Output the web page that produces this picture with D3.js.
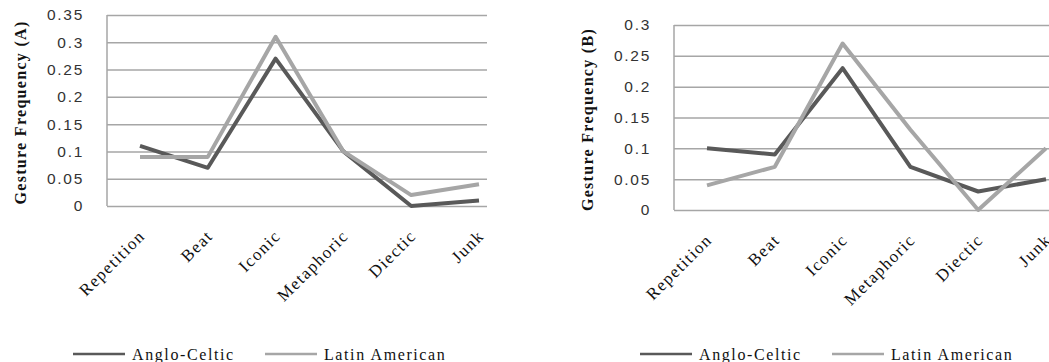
<!DOCTYPE html>
<html>
<head>
<meta charset="utf-8">
<script src="https://cdn.jsdelivr.net/npm/d3@7"></script>
<style>
  body { margin: 0; background: #fff; }
  svg { display: block; }
  .serif { font-family: "Liberation Serif", "DejaVu Serif", serif; }
  .num { font-family: "Liberation Sans", "DejaVu Sans", sans-serif; }
</style>
</head>
<body>
<svg id="chart" width="1049" height="362"></svg>
<script>
// gesture categories and frequencies
const categories = ["Repetition", "Beat", "Iconic", "Metaphoric", "Diectic", "Junk"];
const seriesNames = ["Anglo-Celtic", "Latin American"];

const angloA = [0.11, 0.07, 0.27, 0.10, 0.00, 0.01];
const latinA = [0.09, 0.09, 0.31, 0.10, 0.02, 0.04];
const angloB = [0.10, 0.09, 0.23, 0.07, 0.03, 0.05];
const latinB = [0.04, 0.07, 0.27, 0.13, 0.00, 0.10];

const ticksA = [0, 0.05, 0.1, 0.15, 0.2, 0.25, 0.3, 0.35];
const ticksB = [0, 0.05, 0.1, 0.15, 0.2, 0.25, 0.3];

const colors = ["#595959", "#a6a6a6"];

const svg = d3.select("#chart");

function drawPanel(opt) {
    const g = svg.append("g");

    const x = d3.scalePoint().domain(categories).range([opt.x0, opt.x1]);
    const y = d3.scaleLinear().domain([0, d3.max(opt.ticks)]).range([opt.bottom, opt.top]);

    // gridlines
    g.append("g")
        .attr("transform", "translate(" + opt.left + ",0)")
        .call(d3.axisLeft(y).tickValues(opt.ticks).tickSize(-(opt.right - opt.left)).tickFormat(""))
        .call(a => a.select(".domain").remove())
        .selectAll("line")
        .attr("stroke", "#a6a6a6")
        .attr("stroke-width", 1.5);

    // left axis line
    g.append("line")
        .attr("x1", opt.left).attr("x2", opt.left)
        .attr("y1", opt.top).attr("y2", opt.bottom)
        .attr("stroke", "#a6a6a6").attr("stroke-width", 1.5);

    // y tick labels
    const yl = g.append("g")
        .attr("transform", "translate(" + (opt.left - 23) + ",0)")
        .call(d3.axisLeft(y).tickValues(opt.ticks).tickSize(0).tickPadding(0).tickFormat(d => String(d)))
        .call(a => a.select(".domain").remove());
    yl.attr("font-family", null).attr("font-size", null);
    yl.selectAll("text")
        .attr("class", "num")
        .attr("font-size", 15.5)
        .attr("letter-spacing", 1.7)
        .attr("fill", "#333");

    // category labels
    g.selectAll(".cat")
        .data(categories)
        .enter().append("text")
        .attr("class", "serif")
        .attr("transform", d => "translate(" + (x(d) + 6) + "," + (opt.bottom + 31) + ") rotate(-45)")
        .attr("text-anchor", "end")
        .attr("font-size", 17)
        .attr("letter-spacing", 1.4)
        .attr("fill", "#111")
        .text(d => d);

    // y title
    g.append("text")
        .attr("class", "serif")
        .attr("transform", "translate(" + (opt.left - 81) + "," + ((opt.top + opt.bottom) / 2 + 2) + ") rotate(-90)")
        .attr("text-anchor", "middle")
        .attr("font-weight", "bold")
        .attr("font-size", 16)
        .attr("letter-spacing", 1.3)
        .attr("fill", "#111")
        .text(opt.title);

    // lines
    const line = d3.line()
        .x((d, i) => x(categories[i]))
        .y(d => y(d));

    [opt.anglo, opt.latin].forEach((vals, i) => {
        g.append("path")
            .datum(vals)
            .attr("fill", "none")
            .attr("stroke", colors[i])
            .attr("stroke-width", 4)
            .attr("stroke-linejoin", "round")
            .attr("d", line);
    });

    // legend
    const leg = g.append("g");
    seriesNames.forEach((name, i) => {
        const lx = opt.legendX + i * 192;
        leg.append("line")
            .attr("x1", lx).attr("x2", lx + 52)
            .attr("y1", 354).attr("y2", 354)
            .attr("stroke", colors[i]).attr("stroke-width", 2.5);
        leg.append("text")
            .attr("class", "serif")
            .attr("x", lx + 59).attr("y", 360)
            .attr("font-size", 16)
            .attr("letter-spacing", 1.6)
            .attr("fill", "#111")
            .text(name);
    });
}

drawPanel({
    left: 107, right: 487, top: 15, bottom: 206,
    x0: 140, x1: 479,
    ticks: ticksA, anglo: angloA, latin: latinA,
    title: "Gesture Frequency (A)",
    legendX: 73
});

drawPanel({
    left: 674, right: 1049, top: 25, bottom: 210,
    x0: 707, x1: 1046,
    ticks: ticksB, anglo: angloB, latin: latinB,
    title: "Gesture Frequency (B)",
    legendX: 640
});
</script>
</body>
</html>
